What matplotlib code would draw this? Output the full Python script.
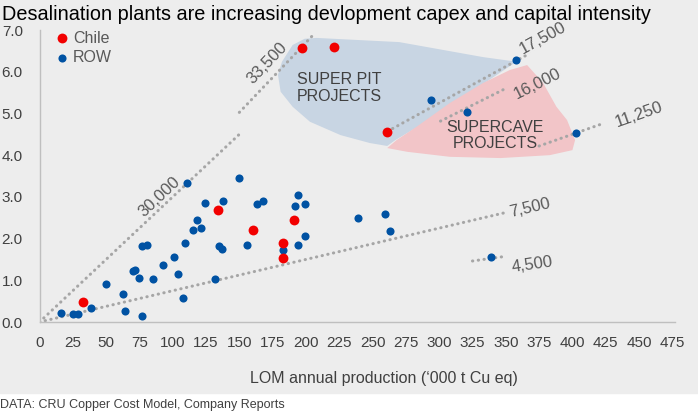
import matplotlib.pyplot as plt
import matplotlib.patches as mpatches
import numpy as np

plt.rcParams['font.family'] = ['Liberation Sans', 'DejaVu Sans']

# ROW projects: LOM annual production ('000 t Cu eq) vs capex ($bn)
row_x = [16, 25, 29, 39, 50, 63, 64, 70, 72, 75, 77, 77, 81, 85, 93, 101, 104,
         108, 109, 111, 115, 118, 121, 124, 132, 135, 137, 138, 150, 156, 163,
         168, 183, 192, 194, 194, 199, 199, 239, 259, 263, 294, 321, 339, 358, 403]
row_y = [0.21, 0.19, 0.18, 0.34, 0.91, 0.67, 0.26, 1.22, 1.24, 1.06, 0.15, 1.83,
         1.85, 1.03, 1.36, 1.55, 1.14, 0.58, 1.89, 3.33, 2.20, 2.44, 2.26, 2.85,
         1.03, 1.83, 1.74, 2.89, 3.46, 1.85, 2.84, 2.89, 1.73, 2.78, 3.05, 1.85,
         2.84, 2.06, 2.49, 2.60, 2.17, 5.32, 5.04, 1.55, 6.28, 4.52]

# Chile projects
chile_x = [33, 134, 160, 183, 183, 191, 197, 221, 261]
chile_y = [0.49, 2.69, 2.21, 1.89, 1.53, 2.45, 6.58, 6.59, 4.56]

# capital intensity lines ($/t) and the x range they cover
intensity = [30000, 33500, 17500, 16000, 11250, 7500, 4500]
line_x0 = [0, 150, 265, 301, 375, 0, 325]
line_x1 = [150, 207, 366, 351, 423, 352, 349]
label_x = [90, 171, 378, 374, 450, 368, 370]
label_y = [3.0, 6.21, 6.8, 5.72, 4.96, 2.73, 1.37]

# hand drawn zones
superpit_x = [208, 270, 333, 358, 315, 286, 267, 261, 248, 226, 203, 190, 181, 179, 182, 190, 199]
superpit_y = [6.81, 6.71, 6.35, 6.24, 5.32, 4.72, 4.36, 4.22, 4.29, 4.48, 4.80, 5.16, 5.52, 5.92, 6.24, 6.64, 6.79]
supercave_x = [366, 378, 388, 396, 402, 400, 383, 346, 308, 276, 261, 268, 283, 308, 333, 353]
supercave_y = [6.16, 5.73, 5.16, 4.84, 4.36, 4.12, 4.00, 3.93, 3.96, 4.08, 4.17, 4.36, 4.68, 5.25, 5.73, 6.04]

bg = '#EDEDED'
txt = '#595959'

fig = plt.figure(figsize=(6.98, 4.17), dpi=100, facecolor='white')
fig.patches.append(mpatches.Rectangle((0, 1 - 393 / 417), 1, 393 / 417,
                                      transform=fig.transFigure, color=bg, zorder=-10))
ax = fig.add_axes([39.5 / 698, 1 - 322 / 417, (675 - 39.5) / 698, 292 / 417])
ax.set_facecolor(bg)
ax.set_xlim(0, 477)
ax.set_ylim(0, 7)

ax.fill(superpit_x, superpit_y, color='#C8D5E3', lw=0, zorder=1)
ax.fill(supercave_x, supercave_y, color='#F2C5C8', lw=0, zorder=1)

for k, v in enumerate(intensity):
    xs = np.array([line_x0[k], line_x1[k]])
    ax.plot(xs, xs * v / 1e6, color='#A6A6A6', lw=2.2, linestyle=(0, (0.1, 1.8)),
            dash_capstyle='round', zorder=2)
    ang = np.degrees(np.arctan(v / 1e6))
    rot = ax.transData.transform_angles(np.array([ang]),
                                        np.array([[label_x[k], label_y[k]]]))[0]
    ax.text(label_x[k], label_y[k], f'{v:,}', rotation=rot, rotation_mode='anchor',
            ha='center', va='center', fontsize=12, color=txt, zorder=3)

ax.scatter(row_x, row_y, s=34, color='#0052A3', lw=0, label='ROW', zorder=4)
ax.scatter(chile_x, chile_y, s=50, color='#F20000', lw=0, label='Chile', zorder=5)

ax.text(225, 5.61, 'SUPER PIT\nPROJECTS', ha='center', va='center', fontsize=11.5,
        color='#404040', linespacing=1.1, zorder=3)
ax.text(342, 4.48, 'SUPERCAVE\nPROJECTS', ha='center', va='center', fontsize=11.5,
        color='#404040', linespacing=1.1, zorder=3)

h, l = ax.get_legend_handles_labels()
ax.legend(h[::-1], l[::-1], loc='upper left', bbox_to_anchor=(0.01, 1.02), frameon=False,
          fontsize=11.5, labelcolor=txt, handletextpad=0.1, borderaxespad=0,
          labelspacing=0.3, handlelength=1.2)

ax.set_xticks(np.arange(0, 476, 25))
ax.set_yticks(np.arange(0, 7.1, 1))
ax.set_yticklabels([f'{t:.1f}' for t in np.arange(0, 7.1, 1)])
ax.tick_params(length=0, labelsize=11, labelcolor='#404040')
ax.tick_params(axis='x', pad=10)
ax.tick_params(axis='y', pad=12)
for s in ['top', 'right']:
    ax.spines[s].set_visible(False)
for s in ['left', 'bottom']:
    ax.spines[s].set_color('#BFBFBF')
    ax.spines[s].set_linewidth(1)

fig.text(384 / 698, 1 - 378 / 417, 'LOM annual production (\u2018000 t Cu eq)',
         ha='center', va='center', fontsize=11.5, color='#404040')
fig.text(2 / 698, 1 - 20.5 / 417,
         'Desalination plants are increasing devlopment capex and capital intensity',
         ha='left', va='baseline', fontsize=14.3, color='black')
fig.text(0, 1 - 405 / 417, 'DATA: CRU Copper Cost Model, Company Reports',
         ha='left', va='center', fontsize=9, color='#404040')

fig.savefig('out.png', dpi=100, facecolor='white')
